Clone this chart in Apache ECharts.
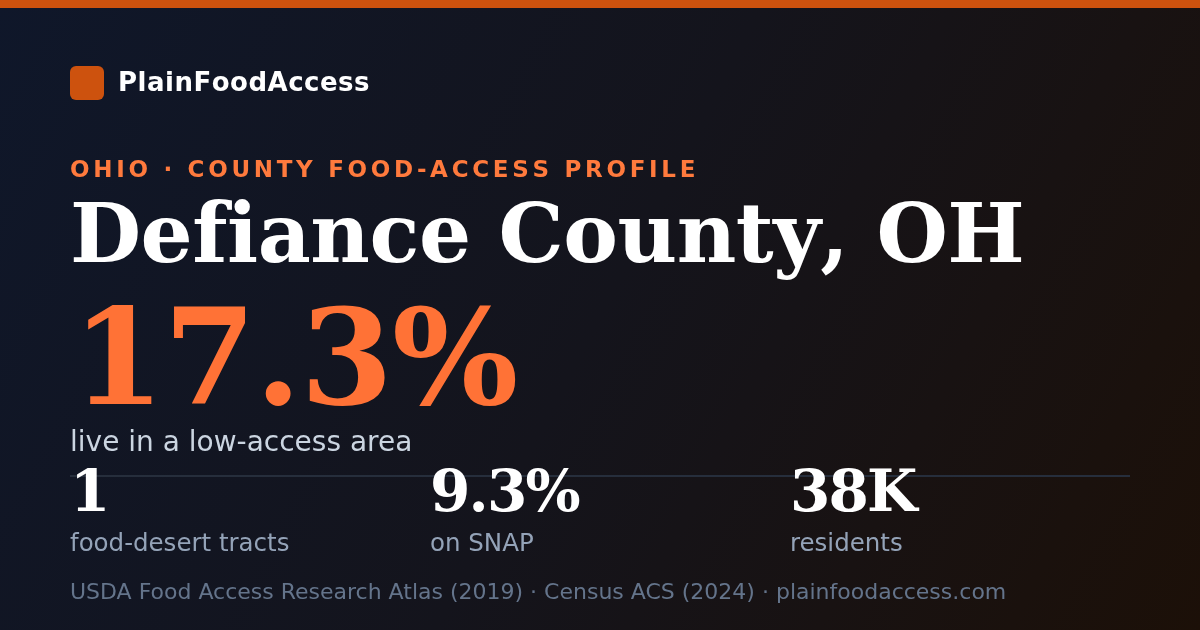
<!DOCTYPE html>
<html><head><meta charset="utf-8">
<script src="https://cdn.jsdelivr.net/npm/echarts@6/dist/echarts.min.js"></script>
<style>html,body{margin:0;padding:0;background:#111;}#c{width:1200px;height:630px;}</style>
</head><body><div id="c"></div>
<script>
const brand = "PlainFoodAccess";
const kicker = "OHIO · COUNTY FOOD-ACCESS PROFILE";
const countyName = "Defiance County, OH";
const headlineValue = "17.3%";
const headlineLabel = "live in a low-access area";
const statValues = ["1", "9.3%", "38K"];
const statLabels = ["food-desert tracts", "on SNAP", "residents"];
const sourceLine = "USDA Food Access Research Atlas (2019) · Census ACS (2024) · plainfoodaccess.com";

const SANS = '"DejaVu Sans", sans-serif';
const SERIF = '"DejaVu Serif", serif';
const mctx = document.createElement('canvas').getContext('2d');

// text at baseline y, with optional letter spacing (per-char placement)
function txt(str, x, baseline, size, family, weight, color, spacing) {
  const y = baseline - 0.3 * size;
  if (!spacing) {
    return [{type:'text', x:x, y:y, style:{text:str, fill:color, font: weight+' '+size+'px '+family, verticalAlign:'middle', align:'left'}}];
  }
  mctx.font = weight+' '+size+'px '+family;
  const out = [];
  let cx = x;
  for (const ch of str) {
    out.push({type:'text', x:cx, y:y, style:{text:ch, fill:color, font: weight+' '+size+'px '+family, verticalAlign:'middle', align:'left'}});
    cx += mctx.measureText(ch).width + spacing;
  }
  return out;
}

const chart = echarts.init(document.getElementById('c'), null, {renderer:'canvas'});
let g = [];
g.push({type:'rect', shape:{x:0,y:0,width:1200,height:8}, style:{fill:'#cd520e'}});
g.push({type:'rect', shape:{x:70,y:66,width:34,height:34,r:6}, style:{fill:'#cd520e'}});
g = g.concat(txt(brand, 118, 92, 26, SANS, 'bold', '#ffffff', 0.5));
g = g.concat(txt(kicker, 70, 178, 23, SANS, 'bold', '#ff7a3d', 3.7));
g = g.concat(txt(countyName, 70, 265, 82, SERIF, 'bold', '#ffffff', -0.5));
g = g.concat(txt(headlineValue, 72, 409, 133, SERIF, 'bold', '#ff7236', -1));
g = g.concat(txt(headlineLabel, 70, 452, 28, SANS, 'normal', '#cbd5e1'));
g.push({type:'line', shape:{x1:70,y1:476,x2:1130,y2:476}, style:{stroke:'#262e3c', lineWidth:2}});
const colX = [70, 430, 790];
statValues.forEach((v,i)=>{
  g = g.concat(txt(v, colX[i], 513, 58, SERIF, 'bold', '#ffffff', -1.8));
  g = g.concat(txt(statLabels[i], colX[i], 552, 24.5, SANS, 'normal', '#94a3b8'));
});
g = g.concat(txt(sourceLine, 70, 600, 22, SANS, 'normal', '#64748b'));

chart.setOption({
  backgroundColor: new echarts.graphic.LinearGradient(0,0,1,1,[
    {offset:0, color:'#0f172a'},
    {offset:0.5, color:'#14141c'},
    {offset:1, color:'#1c1008'}
  ]),
  animation:false,
  graphic: g
});
</script></body></html>
